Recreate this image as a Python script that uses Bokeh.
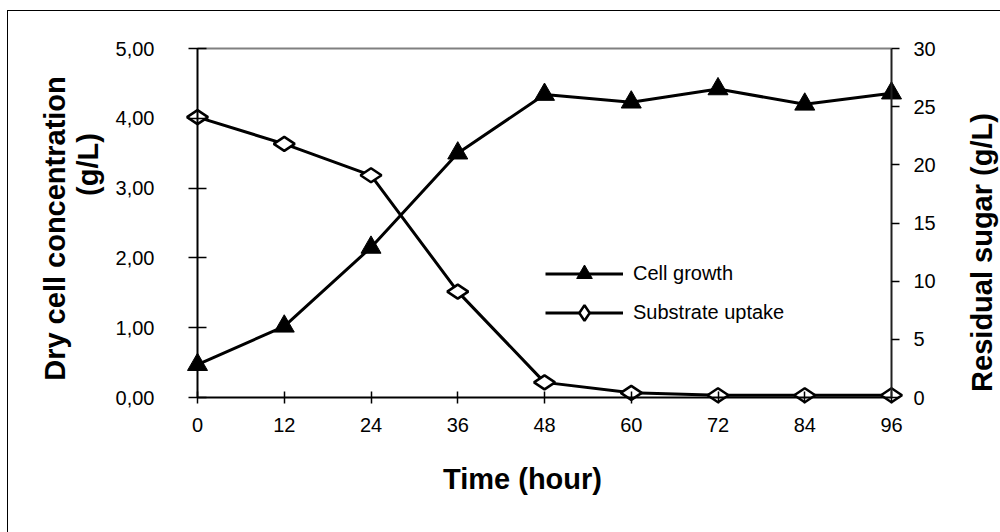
import numpy as np
from bokeh.plotting import figure
from bokeh.models import (Range1d, LinearAxis, FixedTicker, CustomJSTickFormatter,
                          Legend, LegendItem, Label, InlineStyleSheet)
from bokeh.embed import file_html
from bokeh.resources import INLINE

# ---- data ----
time_h = [0, 12, 24, 36, 48, 60, 72, 84, 96]
cell_growth = [0.47, 1.02, 2.15, 3.50, 4.34, 4.23, 4.42, 4.20, 4.36]      # g/L (left axis)
substrate = [24.1, 21.8, 19.1, 9.1, 1.3, 0.4, 0.2, 0.2, 0.2]              # g/L (right axis)
left_ticks = [0, 1, 2, 3, 4, 5]
right_ticks = [0, 5, 10, 15, 20, 25, 30]

FONT = "Liberation Sans"
W, H = 1000, 532

# layout in canvas pixels
FR_L, FR_R, FR_T, FR_B = 100, 945, 26, 450       # frame (wide, so axis labels live inside)
AX_L, AX_R, AX_T, AX_B = 197, 891, 48, 397       # where the data axes sit
ux = 96 / (AX_R - AX_L)
uy_l = 5 / (AX_B - AX_T)
uy_r = 30 / (AX_B - AX_T)

p = figure(width=W, height=H, output_backend="svg", toolbar_location=None,
           x_axis_location=None, y_axis_location=None,
           x_range=Range1d(-(AX_L - FR_L) * ux, 96 + (FR_R - AX_R) * ux),
           y_range=Range1d(-(FR_B - AX_B) * uy_l, 5 + (AX_T - FR_T) * uy_l),
           min_border_left=FR_L, min_border_right=W - FR_R,
           min_border_top=FR_T, min_border_bottom=H - FR_B,
           background_fill_color="white", border_fill_color="white")
p.outline_line_color = None
p.xgrid.visible = False
p.ygrid.visible = False
p.extra_y_ranges = {"sugar": Range1d(-(FR_B - AX_B) * uy_r, 30 + (AX_T - FR_T) * uy_r)}

# outer chart border (left and top edges are inside the window)
p.stylesheets = [InlineStyleSheet(css="""
:host { position: relative; }
:host::after { content: ""; position: absolute; left: 7px; top: 10px; right: 0; bottom: 0;
  border-left: 1.5px solid black; border-top: 1.5px solid black; pointer-events: none; }
""")]

def style_axis(ax, size="20px"):
    ax.major_label_text_font = FONT
    ax.major_label_text_font_size = size
    ax.major_label_text_color = "black"
    ax.axis_line_color = "black"
    ax.axis_line_width = 2
    ax.major_tick_line_color = "black"
    ax.major_tick_line_width = 1.5
    ax.minor_tick_line_color = None

# bottom axis
xa = LinearAxis(ticker=FixedTicker(ticks=time_h))
style_axis(xa)
xa.fixed_location = 0
xa.bounds = (0, 96)
xa.major_tick_in = 6
xa.major_tick_out = 6
xa.major_label_standoff = 14
p.add_layout(xa, "below")

# left axis
ya = LinearAxis(ticker=FixedTicker(ticks=left_ticks),
                formatter=CustomJSTickFormatter(code="return tick.toFixed(2).replace('.', ',');"))
style_axis(ya)
ya.fixed_location = 0
ya.bounds = (0, 5)
ya.major_tick_in = 9
ya.major_tick_out = 9
ya.major_label_standoff = 34
p.add_layout(ya, "left")

# right axis
ra = LinearAxis(y_range_name="sugar", ticker=FixedTicker(ticks=right_ticks))
style_axis(ra)
ra.axis_line_color = "#202020"
ra.fixed_location = 96
ra.bounds = (0, 30)
ra.major_tick_in = 0
ra.major_tick_out = 8
ra.major_label_standoff = 14
p.add_layout(ra, "right")

# top border of plot area (gray)
ta = LinearAxis(ticker=FixedTicker(ticks=[]))
ta.fixed_location = 5
ta.bounds = (0, 96)
ta.axis_line_color = "#808080"
ta.axis_line_width = 2
ta.major_tick_line_color = None
ta.minor_tick_line_color = None
ta.major_label_text_font_size = "0px"
p.add_layout(ta, "above")

# series
l1 = p.line(time_h, cell_growth, line_color="black", line_width=3)
l2 = p.line(time_h, substrate, line_color="black", line_width=3, y_range_name="sugar")
s1 = p.scatter(time_h, cell_growth, marker="triangle", size=20,
               fill_color="black", line_color="black", line_width=1)
s2 = p.scatter(time_h, substrate, marker="diamond", size=21, angle=np.pi / 2,
               fill_color="white", line_color="black", line_width=2.5, y_range_name="sugar")

legend = Legend(items=[LegendItem(label="Cell growth", renderers=[l1, s1]),
                       LegendItem(label="Substrate uptake", renderers=[l2, s2])],
                location=(545 - FR_L, FR_B - 332), orientation="vertical",
                glyph_width=78, glyph_height=39, label_height=39, spacing=0,
                label_standoff=10, padding=0, margin=0,
                border_line_color=None, background_fill_alpha=0,
                label_text_font=FONT, label_text_font_size="20px",
                label_text_color="black", label_text_baseline="middle")
p.add_layout(legend, "center")

# axis titles (canvas pixel units, placed in side panels so they are not clipped)
title_kw = dict(x_units="canvas", y_units="canvas", text_font=FONT, text_font_style="bold",
                text_font_size="29px", text_color="black", text_align="center",
                text_baseline="middle")
p.add_layout(Label(x=54, y=228, text="Dry cell concentration", angle=np.pi / 2, **title_kw), "left")
p.add_layout(Label(x=87, y=164, text="(g/L)", angle=np.pi / 2, **title_kw), "left")
p.add_layout(Label(x=981, y=252, text="Residual sugar (g/L)", angle=np.pi / 2, **title_kw), "right")
p.add_layout(Label(x=522, y=478, text="Time (hour)", **title_kw), "below")

open("out.html", "w").write(file_html(p, INLINE))
